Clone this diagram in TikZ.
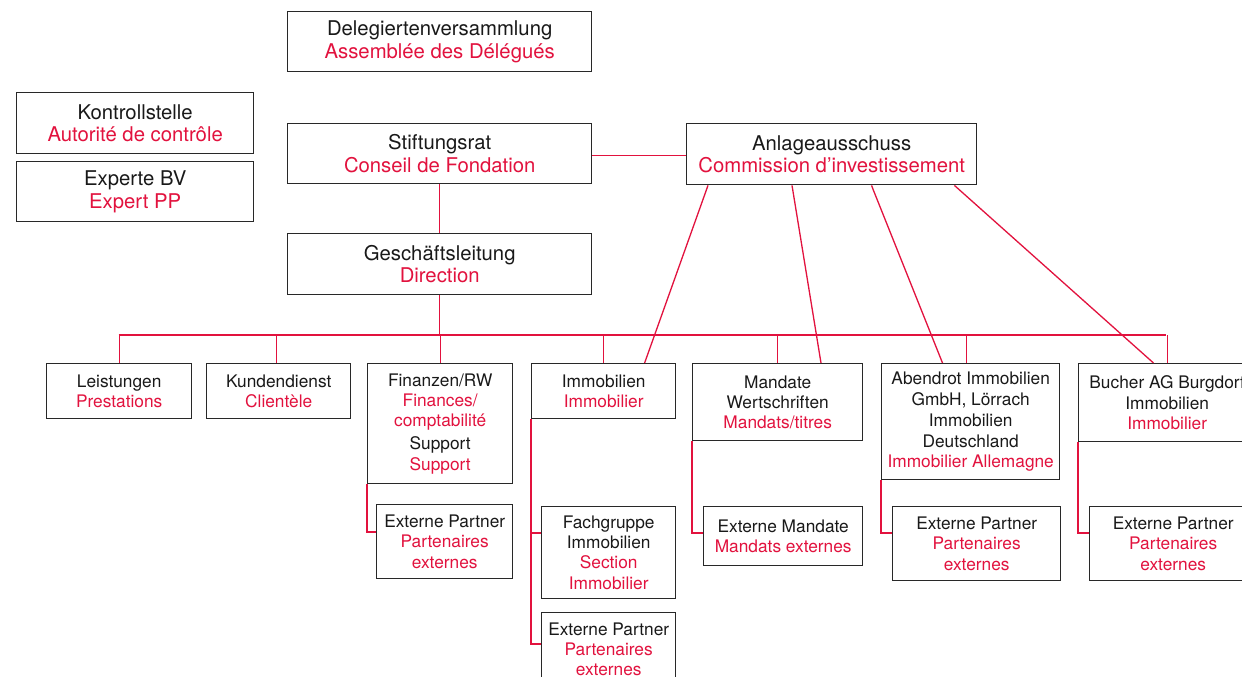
\documentclass[tikz,border=0pt]{standalone}
\usepackage{fontspec}
\setmainfont{TeX Gyre Heros}
\definecolor{crim}{RGB}{226,18,62}
\definecolor{boxgray}{RGB}{40,40,40}
\definecolor{txt}{RGB}{25,25,25}
\newcommand{\redt}[1]{\textcolor{crim}{#1}}
\tikzset{
  box/.style={draw=boxgray, line width=1.4pt, inner sep=0pt, align=center, anchor=north west, text=txt},
  bigbox/.style={box, font=\fontsize{20.3}{22.7}\selectfont},
  smallbox/.style={box, font=\fontsize{17.3}{20.2}\selectfont},
  conn/.style={draw=crim, line width=1.3pt},
}
\begin{document}
\begin{tikzpicture}[x=1pt,y=-1pt]
\useasboundingbox (0,0) rectangle (1242,677);
\fill[white] (0,0) rectangle (1242,677);
\clip (0,0) rectangle (1242,677);
% top boxes
\node[bigbox, minimum width=304pt, minimum height=60pt] (del) at (287,11) {Delegiertenversammlung\\\redt{Assemblée des Délégués}};
\node[bigbox, minimum width=237pt, minimum height=61pt] (kon) at (16,92) {Kontrollstelle\\\redt{Autorité de contrôle}};
\node[bigbox, minimum width=237pt, minimum height=60pt] (exp) at (16,161) {Experte BV\\\redt{Expert PP}};
\node[bigbox, minimum width=304pt, minimum height=60pt] (sti) at (287,123) {Stiftungsrat\\\redt{Conseil de Fondation}};
\node[bigbox, minimum width=290pt, minimum height=61pt] (anl) at (686,123) {Anlageausschuss\\\redt{Commission d’investissement}};
\node[bigbox, minimum width=304pt, minimum height=61pt] (ges) at (287,233) {Geschäftsleitung\\\redt{Direction}};
% second level
\node[smallbox, minimum width=145pt, minimum height=55pt] (lei) at (46,363) {Leistungen\\\redt{Prestations}};
\node[smallbox, minimum width=144pt, minimum height=55pt] (kun) at (206,363) {Kundendienst\\\redt{Clientèle}};
\node[smallbox, minimum width=145pt, minimum height=120pt] (fin) at (367,363) {Finanzen/RW\\\redt{Finances/}\\\redt{comptabilité}\\[3pt]Support\\\redt{Support}};
\node[smallbox, minimum width=144pt, minimum height=55pt] (imm) at (531,363) {Immobilien\\\redt{Immobilier}};
\node[smallbox, minimum width=170pt, minimum height=77pt] (man) at (692,363) {Mandate\\Wertschriften\\\redt{Mandats/titres}};
\node[smallbox, minimum width=178pt, minimum height=116pt] (abe) at (881,363) {Abendrot Immobilien\\GmbH, Lörrach\\[1.5pt]Immobilien\\Deutschland\\\redt{Immobilier Allemagne}};
\node[smallbox, minimum width=177pt, minimum height=78pt] (buc) at (1078,363) {Bucher AG Burgdorf\\Immobilien\\\redt{Immobilier}};
% third level
\node[smallbox, minimum width=136pt, minimum height=74pt] (efin) at (376,504) {Externe Partner\\\redt{Partenaires}\\\redt{externes}};
\node[smallbox, minimum width=134pt, minimum height=92pt] (fach) at (541,506) {Fachgruppe\\Immobilien\\\redt{Section}\\\redt{Immobilier}};
\node[smallbox, minimum width=134pt, minimum height=73pt] (eimm) at (541,612) {Externe Partner\\\redt{Partenaires}\\\redt{externes}};
\node[smallbox, minimum width=159pt, minimum height=59pt] (eman) at (703,506) {Externe Mandate\\\redt{Mandats externes}};
\node[smallbox, minimum width=168pt, minimum height=74pt] (eabe) at (892,506) {Externe Partner\\\redt{Partenaires}\\\redt{externes}};
\node[smallbox, minimum width=167pt, minimum height=74pt] (ebuc) at (1089,506) {Externe Partner\\\redt{Partenaires}\\\redt{externes}};
% connectors top
\draw[conn] ([yshift=-2pt]sti.east) -- ([yshift=-2pt]sti.east -| anl.west);
\draw[conn] (sti.south) -- (ges.north);
\coordinate (busL) at (118.5,335);
\coordinate (busR) at (1166,335);
\draw[conn] (ges.south) -- (ges.south |- busL);
\draw[conn] (busL) -- (busR);
\draw[conn] (lei.north) -- (lei.north |- busL);
\draw[conn] ([xshift=-2pt]kun.north) -- ([xshift=-2pt]kun.north |- busL);
\draw[conn] (fin.north) -- (fin.north |- busL);
\draw[conn] (imm.north) -- (imm.north |- busL);
\draw[conn] (man.north) -- (man.north |- busL);
\draw[conn] ([xshift=-4pt]abe.north) -- ([xshift=-4pt]abe.north |- busL);
\draw[conn] (buc.north) -- (buc.north |- busL);
% diagonal connectors from Anlageausschuss
\draw[conn] ([xshift=22pt]anl.south west) -- ([xshift=113.6pt]imm.north west);
\draw[conn] ([xshift=106pt]anl.south west) -- ([xshift=129pt]man.north west);
\draw[conn] ([xshift=185.5pt]anl.south west) -- ([xshift=61.5pt]abe.north west);
\draw[conn] ([xshift=268.4pt]anl.south west) -- ([xshift=75.5pt]buc.north west);
% elbow connectors
\draw[conn] (fin.south west) |- ([yshift=-28pt]efin.north west);
\draw[conn] (imm.south west) |- ([yshift=-27pt]fach.north west);
\draw[conn] (imm.south west) |- ([yshift=-32pt]eimm.north west);
\draw[conn] (man.south west) |- ([yshift=-27pt]eman.north west);
\draw[conn] (abe.south west) |- ([yshift=-27pt]eabe.north west);
\draw[conn] (buc.south west) |- ([yshift=-27pt]ebuc.north west);
\end{tikzpicture}
\end{document}
